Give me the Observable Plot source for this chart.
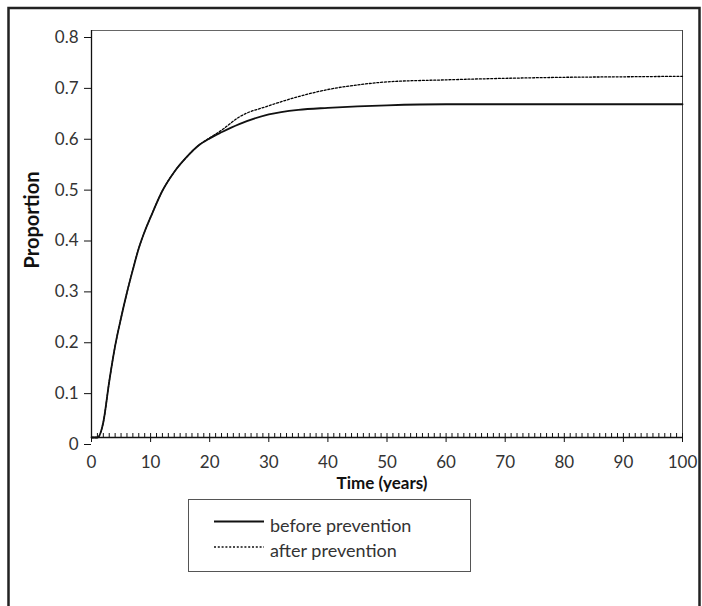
<!DOCTYPE html>
<html><head><meta charset="utf-8">
<script src="https://cdn.jsdelivr.net/npm/d3@7"></script>
<script src="https://cdn.jsdelivr.net/npm/@observablehq/plot@0.6"></script>
<style>
body{margin:0;background:#fff;}
#chart{position:relative;width:702px;height:606px;}
</style>
</head><body><div id="chart"></div>
<script>
const years = [0,1,2,3,4,5,6,7,8,9,10,12,14,16,18,20,22,25,30,35,40,45,50,60,70,80,90,100];
const beforePrevention = [0,0,0.03,0.11,0.18,0.235,0.285,0.33,0.372,0.405,0.433,0.485,0.522,0.55,0.573,0.588,0.600,0.616,0.635,0.644,0.648,0.651,0.653,0.655,0.655,0.655,0.655,0.655];
const afterPrevention  = [0,0,0.03,0.11,0.18,0.235,0.285,0.33,0.372,0.405,0.433,0.485,0.522,0.55,0.573,0.589,0.604,0.630,0.652,0.670,0.684,0.693,0.699,0.703,0.706,0.708,0.709,0.710];
const seriesNames = ["before prevention", "after prevention"];
const yTicks = [0,0.1,0.2,0.3,0.4,0.5,0.6,0.7,0.8];
const xTicks = [0,10,20,30,40,50,60,70,80,90,100];
const xMinorTicks = d3.range(0, 101, 1);
const xTitle = "Time (years)";
const yTitle = "Proportion";

const rows = [];
years.forEach((t, i) => {
  rows.push({t, v: beforePrevention[i], s: seriesNames[0]});
  rows.push({t, v: afterPrevention[i], s: seriesNames[1]});
});

const font = "Lato, 'Open Sans', sans-serif";
const dotted = "2,1.8";
const chart = Plot.plot({
  width: 702, height: 606,
  marginLeft: 91, marginRight: 20, marginTop: 30, marginBottom: 169,
  style: {fontFamily: font, background: "#fff", color: "#333"},
  x: {domain: [0, 100]},
  y: {domain: [0, 0.8]},
  marks: [
    Plot.ruleY([0.8], {stroke: "#666", strokeWidth: 1}),
    Plot.ruleX([100], {stroke: "#444", strokeWidth: 1}),
    Plot.ruleX([0], {stroke: "#111", strokeWidth: 1.3}),
    Plot.ruleY([0], {stroke: "#111", strokeWidth: 1.3}),
    Plot.axisY(yTicks, {tickSize: 7, tickPadding: 6, dy: 7, fontSize: 17, fill: "#333", stroke: "#111",
      tickFormat: d => d === 0 ? "0" : d.toFixed(1), label: null}),
    Plot.axisX(xMinorTicks, {tickSize: 4, dy: -4, tickFormat: () => "", stroke: "#111", label: null}),
    Plot.axisX(xTicks, {tickSize: 5, tickPadding: 13, fontSize: 17, fill: "#333", stroke: "#111",
      tickFormat: d => String(d), label: null}),
    Plot.line(rows.filter(d => d.s === seriesNames[1]), {x: "t", y: "v", curve: "monotone-x",
      stroke: "#000", strokeWidth: 1.3, strokeDasharray: dotted}),
    Plot.line(rows.filter(d => d.s === seriesNames[0]), {x: "t", y: "v", curve: "monotone-x",
      stroke: "#111", strokeWidth: 1.8}),
    Plot.text([xTitle], {frameAnchor: "bottom", dx: -5, dy: 51, lineAnchor: "bottom", textAnchor: "middle",
      fontWeight: "bold", fontSize: 17, fill: "#111"}),
    Plot.text([yTitle], {frameAnchor: "left", dx: -59, dy: -14, rotate: -90, textAnchor: "middle",
      fontWeight: "bold", fontSize: 20, fill: "#111"})
  ]
});

const svg = d3.select(chart);
// outer frame
svg.append("rect").attr("x", 8.5).attr("y", 8).attr("width", 691).attr("height", 640)
  .attr("fill", "none").attr("stroke", "#222").attr("stroke-width", 2.5);
// legend
const lg = svg.append("g").attr("font-family", font).attr("font-size", 18).attr("fill", "#333")
  .attr("text-anchor", "start");
lg.append("rect").attr("x", 188.5).attr("y", 499.5).attr("width", 282).attr("height", 72)
  .attr("fill", "none").attr("stroke", "#555").attr("stroke-width", 1);
const legendY = [521.5, 547];
const legendStyles = [{w: 1.8, dash: null}, {w: 1.3, dash: dotted}];
seriesNames.forEach((name, i) => {
  lg.append("line").attr("x1", 214).attr("x2", 264).attr("y1", legendY[i]).attr("y2", legendY[i])
    .attr("stroke", "#111").attr("stroke-width", legendStyles[i].w)
    .attr("stroke-dasharray", legendStyles[i].dash);
  lg.append("text").attr("x", 270).attr("y", legendY[i] + 10).attr("text-anchor", "start").text(name);
});

document.getElementById("chart").appendChild(chart);
</script>
</body></html>
